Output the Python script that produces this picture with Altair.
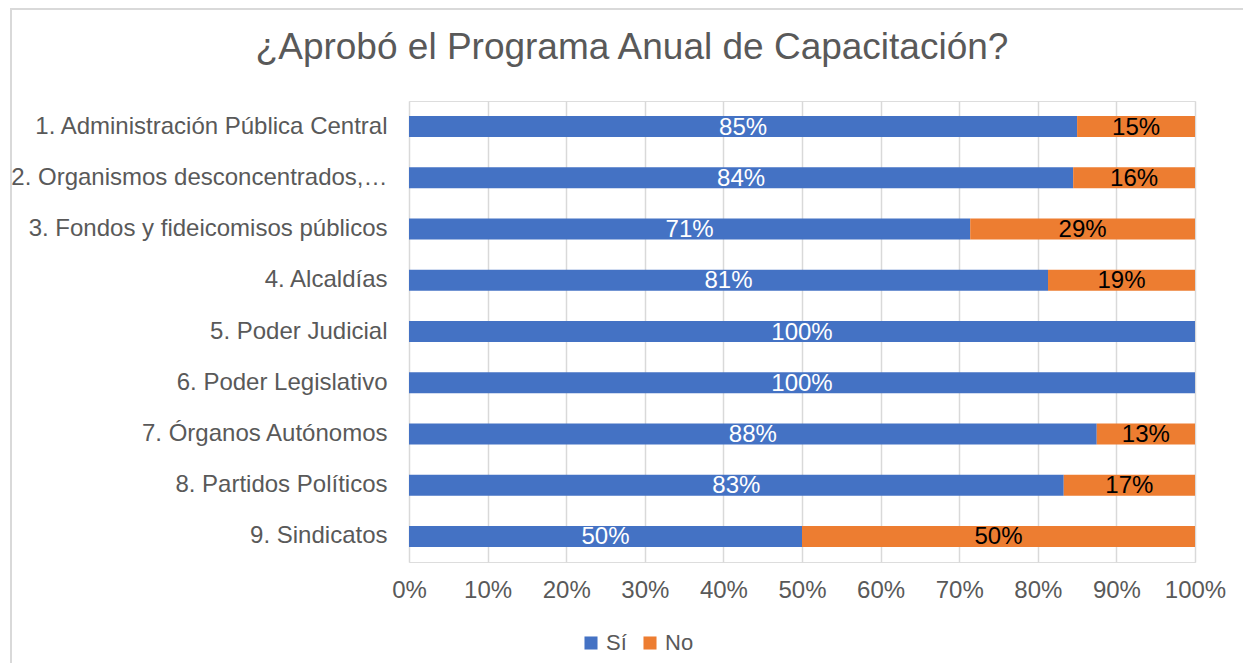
import altair as alt
import pandas as pd

categories = [
    "1. Administración Pública Central",
    "2. Organismos desconcentrados, paraestatales y auxiliares",
    "3. Fondos y fideicomisos públicos",
    "4. Alcaldías",
    "5. Poder Judicial",
    "6. Poder Legislativo",
    "7. Órganos Autónomos",
    "8. Partidos Políticos",
    "9. Sindicatos",
]
si_values = [0.85, 0.845, 0.714, 0.813, 1.0, 1.0, 0.875, 0.833, 0.5]
no_values = [0.15, 0.155, 0.286, 0.187, 0.0, 0.0, 0.125, 0.167, 0.5]
si_labels = ["85%", "84%", "71%", "81%", "100%", "100%", "88%", "83%", "50%"]
no_labels = ["15%", "16%", "29%", "19%", "", "", "13%", "17%", "50%"]
series = ["Sí", "No"]
x_ticks = [0, 0.1, 0.2, 0.3, 0.4, 0.5, 0.6, 0.7, 0.8, 0.9, 1.0]

rows = []
for c, s, n, sl, nl in zip(categories, si_values, no_values, si_labels, no_labels):
    rows.append({"cat": c, "serie": "Sí", "ord": 0, "value": s, "label": sl})
    rows.append({"cat": c, "serie": "No", "ord": 1, "value": n, "label": nl})
df = pd.DataFrame(rows)

FONT = "Liberation Sans"
GRAY = "#595959"

base = alt.Chart(df).transform_stack(
    stack="value", groupby=["cat"], as_=["x0", "x1"], sort=[alt.SortField("ord")]
).transform_calculate(mid="(datum.x0 + datum.x1) / 2")

y_enc = alt.Y(
    "cat:N",
    sort=categories,
    title=None,
    scale=alt.Scale(paddingInner=0.6, paddingOuter=0.3),
    axis=alt.Axis(
        ticks=False, domain=False, labelFontSize=24, labelColor=GRAY, labelFont=FONT,
        labelPadding=22, labelLimit=378,
    ),
)

bars = base.mark_bar(size=21).encode(
    x=alt.X(
        "x0:Q",
        scale=alt.Scale(domain=[0, 1]),
        title=None,
        axis=alt.Axis(
            format=".0%", values=x_ticks, ticks=False, domain=False, labelFlush=False,
            labelFontSize=24, labelColor=GRAY, labelFont=FONT, labelPadding=16,
            gridColor="#d9d9d9", gridWidth=1.5,
        ),
    ),
    x2="x1:Q",
    y=y_enc,
    color=alt.Color(
        "serie:N",
        scale=alt.Scale(domain=series, range=["#4472C4", "#ED7D31"]),
        sort=series,
        legend=alt.Legend(
            title=None, orient="none", direction="horizontal", legendX=171, legendY=531,
            symbolType="square", symbolSize=170, symbolStrokeWidth=0,
            labelFontSize=22, labelColor=GRAY, labelFont=FONT, columnPadding=12,
            labelOffset=4,
        ),
    ),
    order=alt.Order("ord:Q"),
)

text_si = base.transform_filter("datum.serie == 'Sí'").mark_text(
    fontSize=24, font=FONT, color="white", baseline="middle", dy=1
).encode(x="mid:Q", y=alt.Y("cat:N", sort=categories), text="label:N")

text_no = base.transform_filter("datum.serie == 'No' && datum.value > 0").mark_text(
    fontSize=24, font=FONT, color="black", baseline="middle", dy=1
).encode(x="mid:Q", y=alt.Y("cat:N", sort=categories), text="label:N")

frame = alt.Chart(pd.DataFrame({"f": [0]})).mark_rect(
    fill="transparent", stroke="#d9d9d9", strokeWidth=2
).encode(
    x=alt.value(-398), x2=alt.value(900), y=alt.value(-92), y2=alt.value(700)
)

chart = alt.layer(frame, bars, text_si, text_no).properties(
    width=786,
    height=461,
    autosize=alt.AutoSizeParams(type="none"),
    padding={"top": 93, "left": 401, "right": 48, "bottom": 101},
    title=alt.TitleParams(
        "¿Aprobó el Programa Anual de Capacitación?",
        fontSize=37, font=FONT, color=GRAY, fontWeight="normal",
        anchor="middle", frame="group", dx=-170, offset=-59,
    ),
).configure_view(stroke=None).configure(background="white")

chart.save("out.html", embed_options={"renderer": "svg", "actions": False})
